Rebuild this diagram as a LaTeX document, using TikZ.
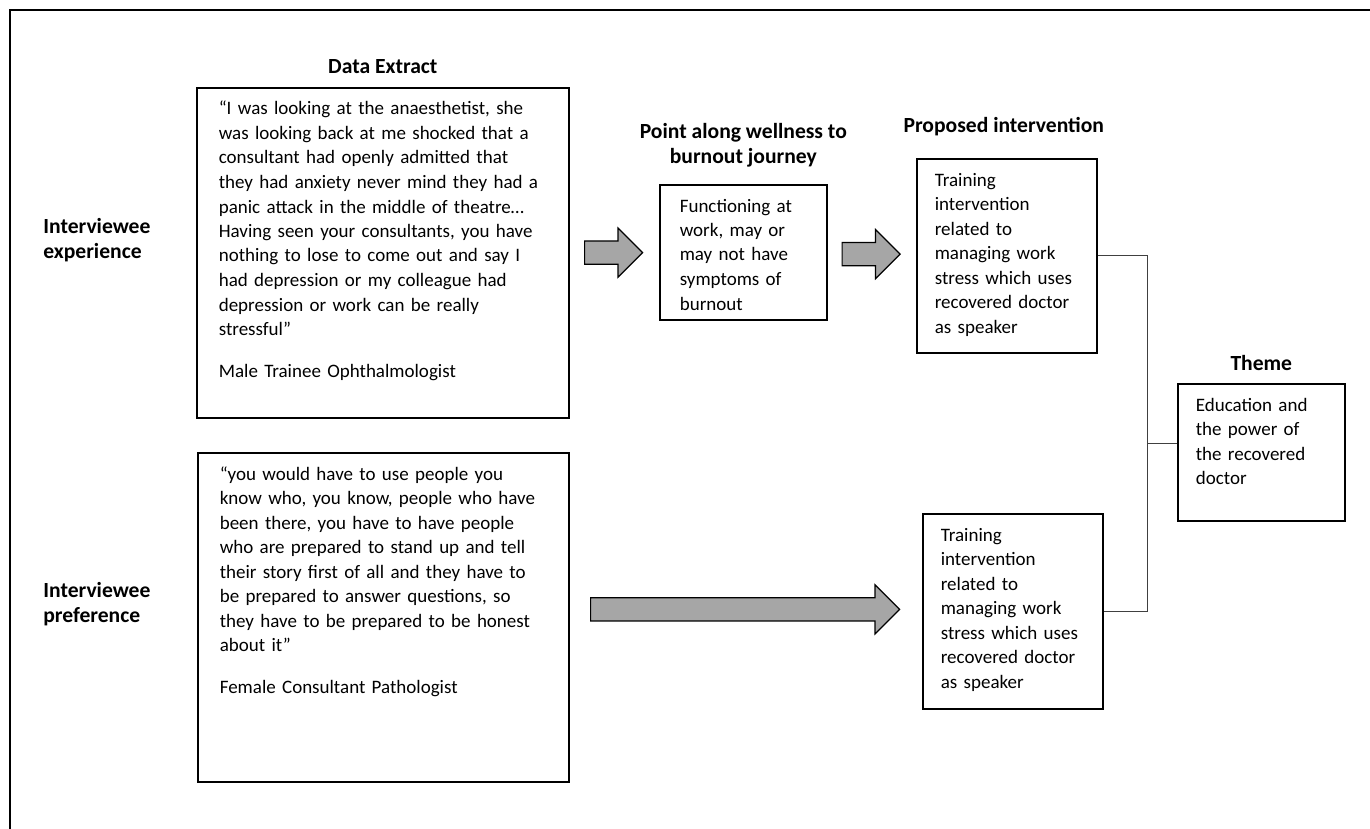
\documentclass[tikz,border=0pt]{standalone}
\usepackage{fontspec}
\setmainfont{Carlito}
\usetikzlibrary{calc,shapes.arrows}
\hyphenpenalty=10000
\exhyphenpenalty=10000

\tikzset{
  box/.style={draw, line width=0.8pt, anchor=north west, align=left,
    inner xsep=9pt, inner ysep=5pt, text height=8.6pt,
    font=\fontsize{9.5}{12.25}\selectfont},
  head/.style={align=center, inner sep=0pt,
    font=\fontsize{10.8}{12.5}\selectfont\bfseries},
  sidehead/.style={head, align=left, anchor=west},
  blockarrow/.style={single arrow, draw=black, fill=gray!70, line width=0.6pt,
    inner xsep=0pt, inner ysep=5.5pt, single arrow head extend=6.5pt, xshift=-3.25pt},
  link/.style={draw=black!75, line width=0.5pt}
}

\begin{document}
\begin{tikzpicture}[x=0.5pt, y=-0.5pt]
  \useasboundingbox (0,0) rectangle (1370,829);
  % outer frame (only top and left edges fall inside the page)
  \draw[line width=1pt] (10,829) -- (10,10) -- (1370,10);

  % quotations
  \node[box, inner xsep=11pt, text width=164pt, text depth=146.4pt] (extract1) at (196,87)
    {“I was looking at the anaesthetist, she\\
     was looking back at me shocked that a\\
     consultant had openly admitted that\\
     they had anxiety never mind they had a\\
     panic attack in the middle of theatre…\\
     Having seen your consultants, you have\\
     nothing to lose to come out and say I\\
     had depression or my colleague had\\
     depression or work can be really\\
     stressful”\\[8.5pt]
     Male Trainee Ophthalmologist};
  \node[box, inner xsep=11pt, text width=163.5pt, text depth=145.9pt] (extract2) at (197,452)
    {“you would have to use people you\\
     know who, you know, people who have\\
     been there, you have to have people\\
     who are prepared to stand up and tell\\
     their story first of all and they have to\\
     be prepared to answer questions, so\\
     they have to be prepared to be honest\\
     about it”\\[8.5pt]
     Female Consultant Pathologist};

  % stage, interventions, theme
  \node[box, inner xsep=10pt, text width=63.5pt, text depth=48.9pt] (stage) at (659,184)
    {Functioning at\\ work, may or\\ may not have\\ symptoms of\\ burnout};
  \node[box, text width=72pt, text depth=78.4pt] (interv1) at (916,158)
    {Training\\ intervention\\ related to\\ managing work\\ stress which uses\\ recovered doctor\\ as speaker};
  \node[box, text width=72pt, text depth=78.9pt] (interv2) at (922,513)
    {Training\\ intervention\\ related to\\ managing work\\ stress which uses\\ recovered doctor\\ as speaker};
  \node[box, text width=65.5pt, text depth=49.9pt] (theme) at (1177,383)
    {Education and\\ the power of\\ the recovered\\ doctor};

  % headings
  \node[head] (extracthead) at ($(extract1.north)+(0,-20)$) {Data Extract};
  \node[head] (stagehead) at ($(stage.north)+(0,-38.5)$) {Point along wellness to\\ burnout journey};
  \node[head] (intervhead) at ($(interv1.north)+(-3,-31)$) {Proposed intervention};
  \node[head] (themehead) at ($(theme.north)+(0,-20)$) {Theme};
  \node[sidehead] (experience) at (43,240.5) {Interviewee\\ experience};
  \node[sidehead] (preference) at (43,604) {Interviewee\\ preference};

  % block arrows
  \node[blockarrow, minimum height=29pt] (fwd1) at ($(extract1.east)!0.5!(stage.west)$) {};
  \node[blockarrow, minimum height=29pt] (fwd2) at ($(stage.east)!0.5!(interv1.west)$) {};
  \node[blockarrow, minimum height=154.5pt] (fwd3) at ($(extract2.east)!0.5!(interv2.west)+(0,-5)$) {};

  % bracket to theme
  \coordinate (bus) at (1147,443);
  \draw[link] (interv1.east) -| (bus) |- (interv2.east);
  \draw[link] (bus) -- (bus -| theme.west);
\end{tikzpicture}
\end{document}
